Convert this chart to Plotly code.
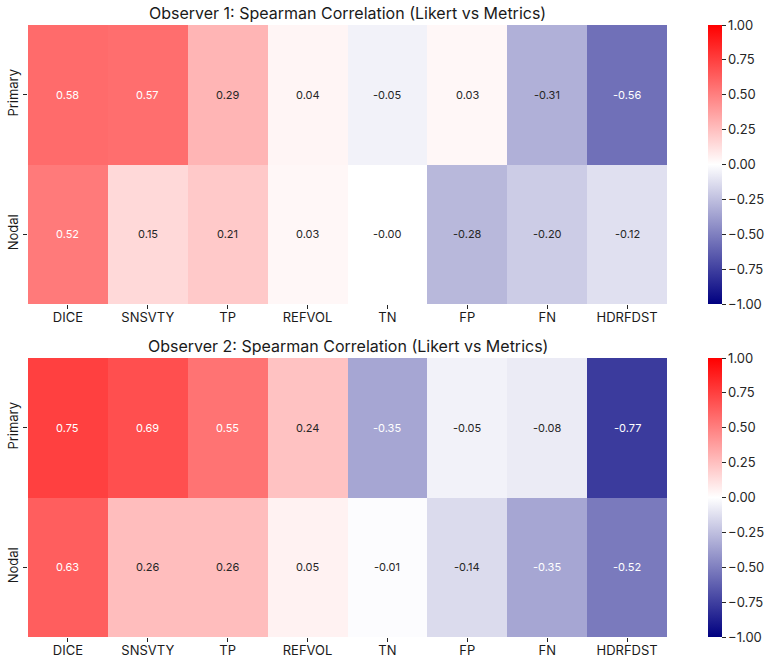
import plotly.graph_objects as go

metrics = ["DICE", "SNSVTY", "TP", "REFVOL", "TN", "FP", "FN", "HDRFDST"]
rows = ["Primary", "Nodal"]
obs1_primary = [0.58, 0.57, 0.29, 0.04, -0.05, 0.03, -0.31, -0.56]
obs1_nodal = [0.52, 0.15, 0.21, 0.03, -0.0, -0.28, -0.20, -0.12]
obs2_primary = [0.75, 0.69, 0.55, 0.24, -0.35, -0.05, -0.08, -0.77]
obs2_nodal = [0.63, 0.26, 0.26, 0.05, -0.01, -0.14, -0.35, -0.52]
titles = ["Observer 1: Spearman Correlation (Likert vs Metrics)",
          "Observer 2: Spearman Correlation (Likert vs Metrics)"]
cbar_ticks = [1.0, 0.75, 0.5, 0.25, 0.0, -0.25, -0.5, -0.75, -1.0]

FONT = "Inter"
NAVY = (0, 0, 128)
WHITE = (255, 255, 255)
RED = (255, 0, 0)
colorscale = [[0.0, "rgb(0,0,128)"], [0.5, "rgb(255,255,255)"], [1.0, "rgb(255,0,0)"]]


def cmap(v):
    t = (v + 1) / 2
    if t <= 0.5:
        a, b, f = NAVY, WHITE, t / 0.5
    else:
        a, b, f = WHITE, RED, (t - 0.5) / 0.5
    return tuple(a[i] + (b[i] - a[i]) * f for i in range(3))


def lum(c):
    def lin(x):
        x = x / 255
        return x / 12.92 if x <= 0.03928 else ((x + 0.055) / 1.055) ** 2.4
    r, g, b = (lin(x) for x in c)
    return 0.2126 * r + 0.7152 * g + 0.0722 * b


W, H = 767, 659
xl, xr = 28, 667
panels = [(25, 304), (358, 637)]
data = [[obs1_primary, obs1_nodal], [obs2_primary, obs2_nodal]]

fig = go.Figure()
annotations = []
for k, (z, (top, bot)) in enumerate(zip(data, panels)):
    xa = "x" if k == 0 else "x2"
    ya = "y" if k == 0 else "y2"
    fig.add_trace(go.Heatmap(
        z=z, x=metrics, y=rows, xaxis=xa, yaxis=ya,
        zmin=-1, zmax=1, colorscale=colorscale, xgap=0, ygap=0,
        hoverinfo="skip",
        colorbar=dict(
            x=708 / W, xanchor="left", thickness=14, xpad=0, ypad=0,
            y=1 - (top + bot) / 2 / H, yanchor="middle",
            len=(bot - top) / H, lenmode="fraction",
            outlinewidth=0, tickvals=cbar_ticks,
            ticktext=[f"{v:.2f}".replace("-", "\u2212") for v in cbar_ticks],
            ticks="outside", ticklen=4, tickcolor="#262626",
            tickfont=dict(family=FONT, size=13, color="#262626"),
        ),
    ))
    for ri, rname in enumerate(rows):
        for ci, m in enumerate(metrics):
            v = z[ri][ci]
            col = "#262626" if lum(cmap(v)) > 0.408 else "white"
            annotations.append(dict(
                x=m, y=rname, xref=xa, yref=ya, text=f"{v:.2f}", showarrow=False,
                font=dict(family=FONT, size=11, color=col)))
    annotations.append(dict(
        x=(xl + xr) / 2 / W, y=1 - (top - 12) / H, xref="paper", yref="paper",
        text=titles[k], showarrow=False, xanchor="center", yanchor="middle",
        font=dict(family=FONT, size=16, color="#1a1a1a")))

axis_common = dict(ticks="outside", ticklen=4, tickcolor="#262626", showgrid=False,
                   zeroline=False, showline=False,
                   tickfont=dict(family=FONT, size=13, color="#1a1a1a"))

fig.update_layout(
    width=W, height=H, margin=dict(l=0, r=0, t=0, b=0, autoexpand=False),
    paper_bgcolor="white", plot_bgcolor="white",
    annotations=annotations,
    xaxis=dict(domain=[xl / W, xr / W], anchor="y", ticklabelstandoff=-3, **axis_common),
    yaxis=dict(domain=[1 - panels[0][1] / H, 1 - panels[0][0] / H], anchor="x",
               autorange="reversed", tickangle=-90, **axis_common),
    xaxis2=dict(domain=[xl / W, xr / W], anchor="y2", ticklabelstandoff=-3, **axis_common),
    yaxis2=dict(domain=[1 - panels[1][1] / H, 1 - panels[1][0] / H], anchor="x2",
                autorange="reversed", tickangle=-90, **axis_common),
    showlegend=False,
)

fig.write_html("out.html")
